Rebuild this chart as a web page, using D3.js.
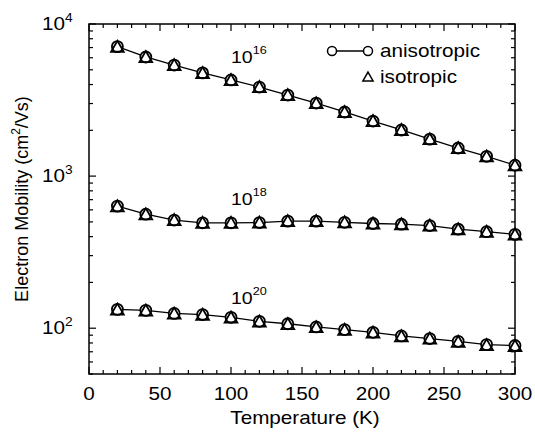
<!DOCTYPE html>
<html><head><meta charset="utf-8">
<script src="https://cdn.jsdelivr.net/npm/d3@7"></script>
<style>body{margin:0;background:#fff}svg{display:block}text{font-family:"Liberation Sans",Arial,sans-serif;fill:#000}</style>
</head><body>
<svg id="c" width="535" height="432"></svg>
<script>
const temps = [20,40,60,80,100,120,140,160,180,200,220,240,260,280,300];
const aniso16 = [7100,6070,5370,4770,4290,3850,3410,3020,2640,2300,2010,1750,1530,1350,1180];
const iso16   = [7050,6030,5340,4740,4260,3830,3390,3000,2620,2290,2000,1740,1520,1340,1170];
const aniso18 = [635,562,514,493,493,495,506,506,497,488,483,473,448,431,414];
const iso18   = [630,558,511,490,490,492,503,503,494,485,480,470,445,428,411];
const aniso20 = [133,131,125,123,118,111,107,102,98,94,89,85.5,82,78,77];
const iso20   = [132,130,124,122,117,110,106,101,97,93,88,85,81,77,76];
const xTicks = [0,50,100,150,200,250,300];
const yTicks = [100,1000,10000];
const curveLabels = [{base:"10",exp:"16"},{base:"10",exp:"18"},{base:"10",exp:"20"}];
const legendItems = ["anisotropic","isotropic"];

const svg = d3.select("#c");
const L=89,R=515,T=24,B=374;
const x = d3.scaleLinear().domain([0,300]).range([L,R]);
const y = d3.scaleLog().domain([50,10000]).range([B,T]);
const SX = 1.15;

// frame
svg.append("rect").attr("x",L).attr("y",T).attr("width",R-L).attr("height",B-T)
  .attr("fill","none").attr("stroke","#000").attr("stroke-width",1.5);

// x ticks
const xMinor = d3.range(0,301,10);
xMinor.forEach(v=>{
  const len = v%50===0?7:4;
  svg.append("line").attr("x1",x(v)).attr("x2",x(v)).attr("y1",B).attr("y2",B-len).attr("stroke","#000").attr("stroke-width",1.2);
  svg.append("line").attr("x1",x(v)).attr("x2",x(v)).attr("y1",T).attr("y2",T+len).attr("stroke","#000").attr("stroke-width",1.2);
});
xTicks.forEach(v=>{
  svg.append("text").attr("transform",`translate(${x(v)},400) scale(${SX},1)`)
    .attr("text-anchor","middle").attr("font-size",18).text(v);
});

// y ticks
const yMinor = [];
[10,100,1000].forEach(d=>{for(let k=1;k<=9;k++){const v=d*k; if(v>=50&&v<=10000) yMinor.push(v);}});
yMinor.push(10000);
yMinor.forEach(v=>{
  const major = Math.abs(Math.log10(v)%1)<1e-9;
  const len = major?7:4;
  svg.append("line").attr("x1",L).attr("x2",L+len).attr("y1",y(v)).attr("y2",y(v)).attr("stroke","#000").attr("stroke-width",1.2);
  svg.append("line").attr("x1",R).attr("x2",R-len).attr("y1",y(v)).attr("y2",y(v)).attr("stroke","#000").attr("stroke-width",1.2);
});
yTicks.forEach(v=>{
  const e = Math.round(Math.log10(v));
  const g = svg.append("text").attr("transform",`translate(42,${y(v)+6}) scale(${SX},1)`).attr("font-size",18);
  g.append("tspan").text("10");
  g.append("tspan").attr("font-size",12).attr("dy",-8).text(e);
});

// axis titles
svg.append("text").attr("transform",`translate(${(L+R)/2+3},424) scale(${SX},1)`)
  .attr("text-anchor","middle").attr("font-size",18).text("Temperature (K)");
const yt = svg.append("text").attr("transform",`translate(28,${(T+B)/2}) rotate(-90)`)
  .attr("text-anchor","middle").attr("font-size",18);
yt.append("tspan").text("Electron Mobility (cm");
yt.append("tspan").attr("font-size",12).attr("dy",-8).text("2");
yt.append("tspan").attr("dy",8).text("/Vs)");

// series
const line = d3.line().x((d,i)=>x(temps[i])).y(d=>y(d));
const tri = d3.symbol().type(d3.symbolTriangle).size(70);
[[aniso16,iso16],[aniso18,iso18],[aniso20,iso20]].forEach(([a,iS])=>{
  svg.append("path").attr("d",line(a)).attr("fill","none").attr("stroke","#000").attr("stroke-width",1.3);
  svg.selectAll(null).data(a).enter().append("circle")
    .attr("cx",(d,i)=>x(temps[i])).attr("cy",d=>y(d)).attr("r",5.5)
    .attr("fill","#fff").attr("stroke","#000").attr("stroke-width",1.8);
  svg.selectAll(null).data(iS).enter().append("path").attr("d",tri)
    .attr("transform",(d,i)=>`translate(${x(temps[i])},${y(d)+1})`)
    .attr("fill","none").attr("stroke","#000").attr("stroke-width",1.8);
});

// curve labels
const labY = [63,205,304];
curveLabels.forEach((c,i)=>{
  const t = svg.append("text").attr("transform",`translate(231,${labY[i]}) scale(${SX},1)`).attr("font-size",17);
  t.append("tspan").text(c.base);
  t.append("tspan").attr("font-size",11).attr("dy",-9).text(c.exp);
});

// legend
svg.append("line").attr("x1",332).attr("x2",368).attr("y1",51).attr("y2",51).attr("stroke","#000").attr("stroke-width",1.3);
[332,368].forEach(cx=>svg.append("circle").attr("cx",cx).attr("cy",51).attr("r",4.5).attr("fill","#fff").attr("stroke","#000").attr("stroke-width",1.5));
svg.append("path").attr("d",d3.symbol().type(d3.symbolTriangle).size(45)).attr("transform","translate(368,78)")
  .attr("fill","none").attr("stroke","#000").attr("stroke-width",1.5);
svg.append("text").attr("transform",`translate(380,57) scale(${SX},1)`).attr("font-size",18).text(legendItems[0]);
svg.append("text").attr("transform",`translate(380,83) scale(${SX},1)`).attr("font-size",18).text(legendItems[1]);
</script>
</body></html>
